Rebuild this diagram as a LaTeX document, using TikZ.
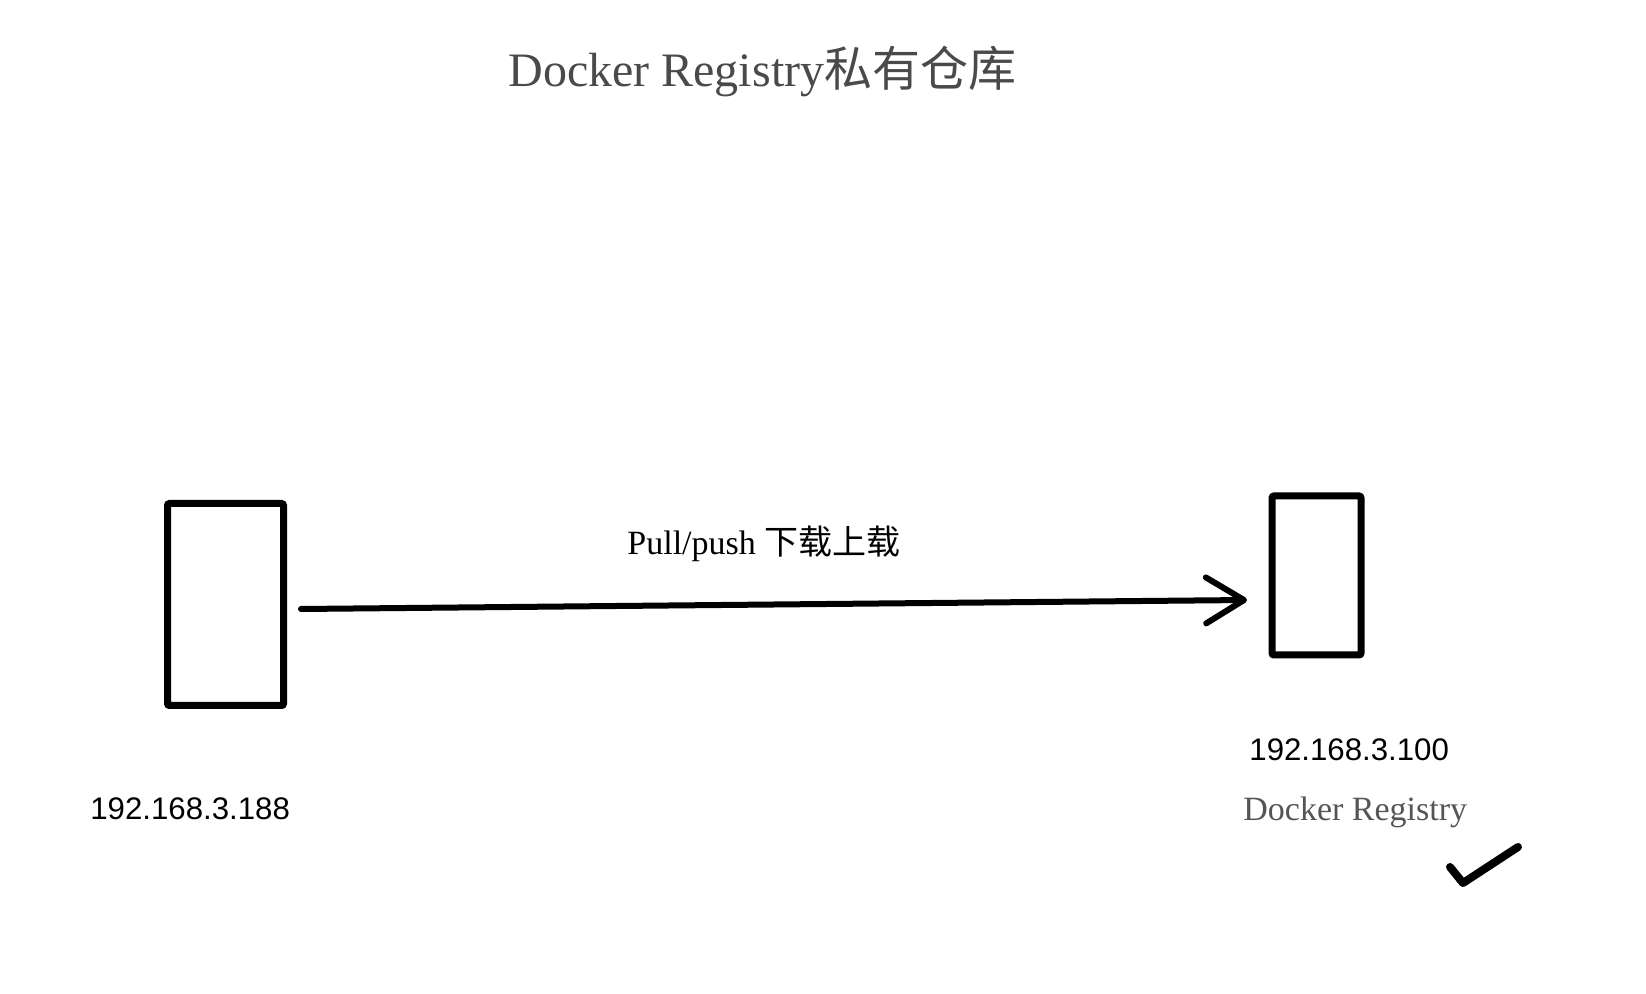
\documentclass[tikz,border=0pt]{standalone}
\usepackage{fontspec}
\setmainfont{Liberation Serif}
\newfontfamily\sansip{Liberation Sans}
\newfontfamily\cjk{Noto Sans CJK SC}
\usetikzlibrary{arrows.meta}
\definecolor{titlegrey}{HTML}{4A4A4A}
\definecolor{reggrey}{HTML}{555555}
\begin{document}
\begin{tikzpicture}[x=0.5pt,y=-0.5pt,
  hostbox/.style={draw=black,line width=3.5pt,rounded corners=1pt,inner sep=0pt,fill=white},
  iplabel/.style={inner sep=0pt,anchor=west,font=\sansip\fontsize{15.6pt}{18pt}\selectfont},
  serlabel/.style={inner sep=0pt,anchor=base west},
  flow/.style={line width=3pt,line cap=round,-{Straight Barb[length=19pt,width=23pt,round]}},
  tick/.style={line width=4pt,line cap=round,line join=round}]
\useasboundingbox[fill=white] (0,0) rectangle (1646,994);
% title
\node[serlabel,text=titlegrey,font=\fontsize{24pt}{28pt}\selectfont] (title) at (508,87) {Docker Registry{\cjk 私有仓库}};
% hosts
\node[hostbox,minimum width=58pt,minimum height=101pt] (client) at (225.5,604.5) {};
\node[hostbox,minimum width=44.5pt,minimum height=79.5pt] (registry) at (1316.5,575.5) {};
% labels
\node[iplabel] (ipl) at (90,809) {192.168.3.188};
\node[iplabel] (ipr) at (1249,749.5) {192.168.3.100};
\node[serlabel,text=reggrey,font=\fontsize{17pt}{20pt}\selectfont] (reg) at (1243,820) {Docker Registry};
% connector
\coordinate (astart) at (301,609);
\coordinate (aend) at (1247,600);
\draw[flow] (astart) -- (aend);
\node[serlabel,font=\fontsize{17pt}{20pt}\selectfont] (flowlbl) at (627,555) {Pull/push {\cjk 下载上载}};
% check mark
\coordinate (c1) at (1450,867);
\coordinate (c2) at (1463,883);
\coordinate (c3) at (1518,847);
\draw[tick] (c1) -- (c2) -- (c3);
\end{tikzpicture}
\end{document}
